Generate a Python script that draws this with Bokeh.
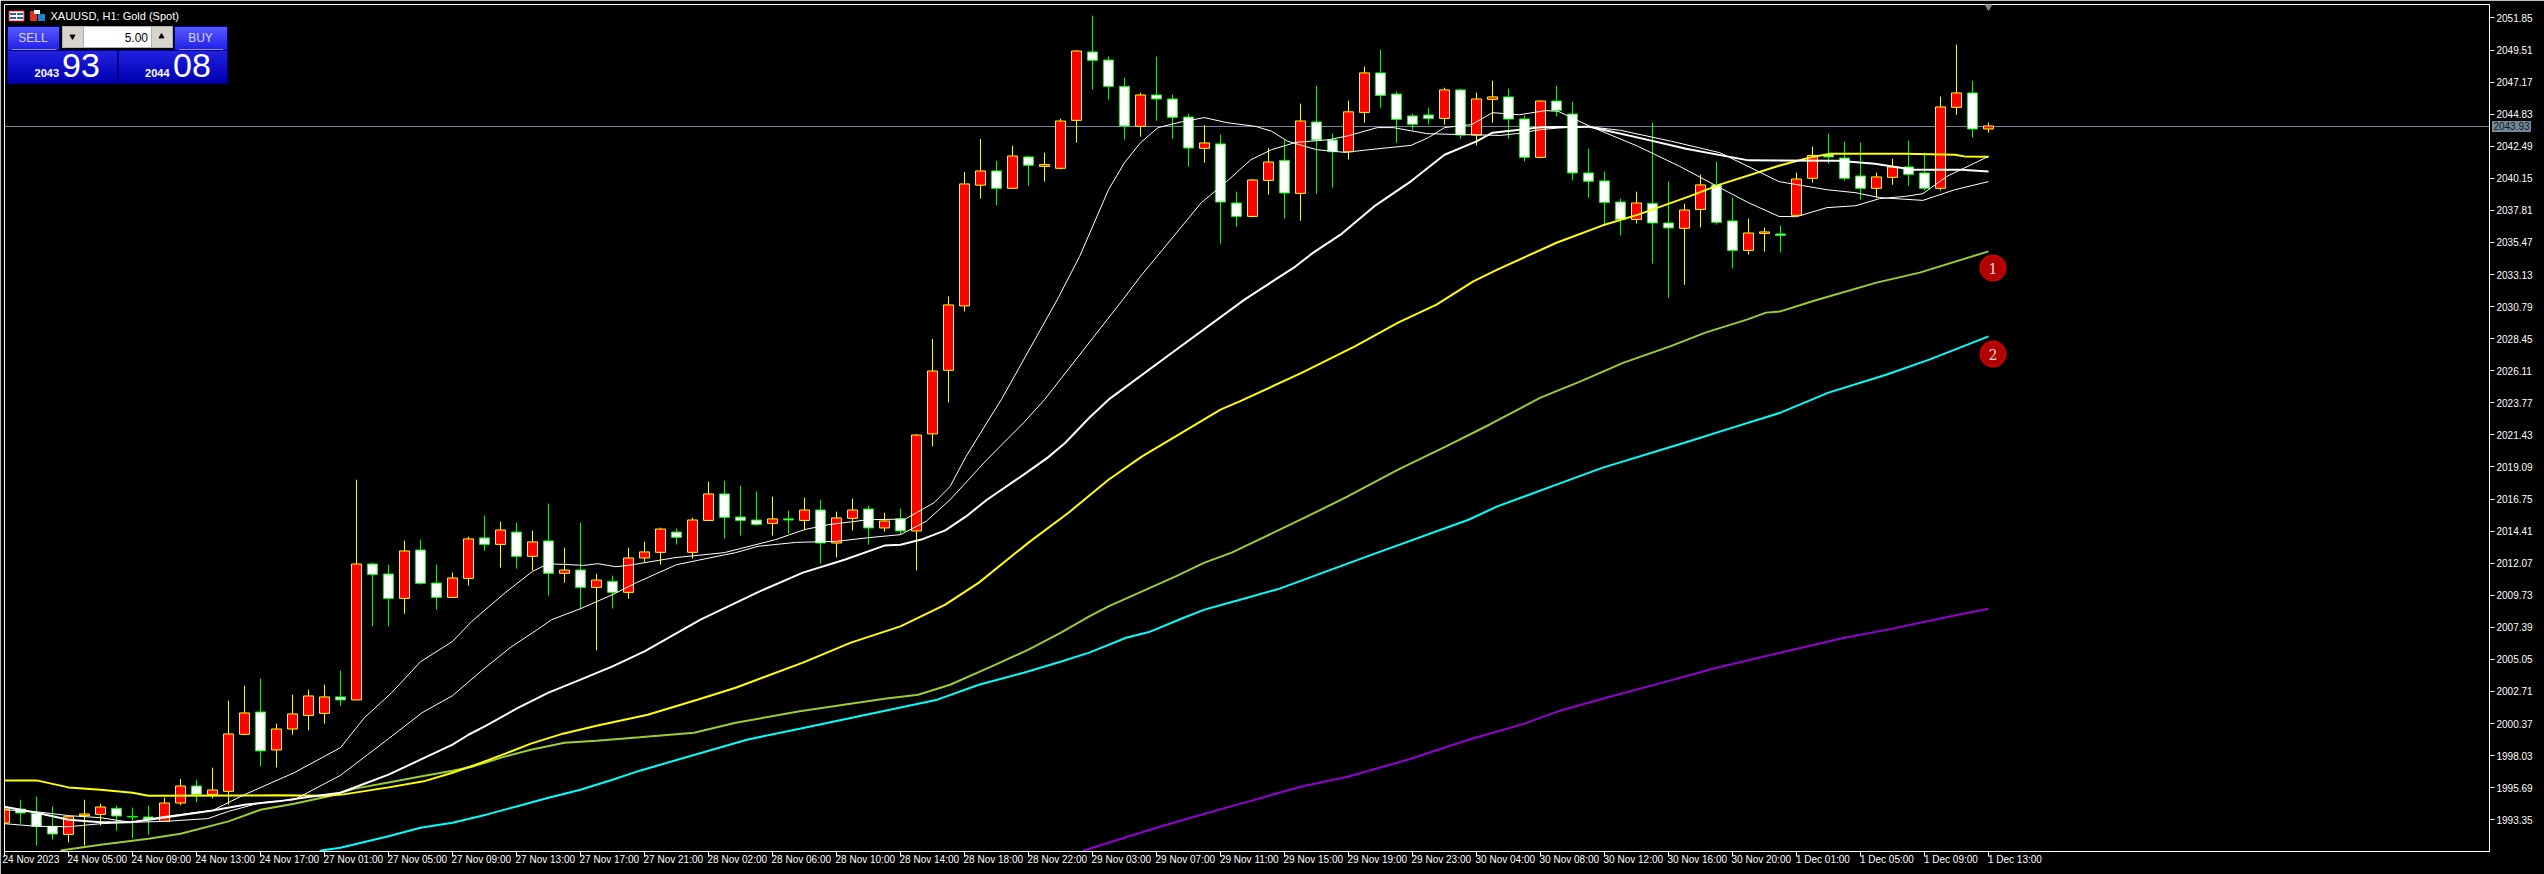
from bokeh.plotting import figure
from bokeh.layouts import column
from bokeh.models import Range1d, FixedTicker, PrintfTickFormatter, LinearAxis, Div, Span, Arrow
from bokeh.embed import file_html
from bokeh.resources import INLINE
from bokeh.core.properties import value

opens = [1993.11,1994.13,1993.81,1992.87,1992.28,1993.65,1993.74,1994.18,1993.59,1993.55,1993.23,1994.57,1995.81,1995.20,1995.42,1999.58,2001.21,1998.44,1999.97,2000.96,2001.11,2002.31,2002.09,2012.01,2011.28,2009.50,2013.03,2010.62,2009.57,2010.96,2013.91,2013.44,2014.34,2012.57,2013.69,2011.33,2011.57,2010.30,2010.74,2009.94,2012.45,2012.86,2014.34,2012.86,2015.19,2017.12,2015.44,2015.22,2014.97,2015.30,2015.19,2015.95,2013.54,2015.34,2016.02,2014.64,2015.30,2014.42,2021.50,2026.14,2030.84,2039.65,2040.69,2039.42,2041.71,2041.02,2040.88,2044.38,2049.37,2048.78,2046.86,2043.94,2046.23,2045.94,2044.62,2042.34,2042.66,2038.35,2037.37,2040.00,2041.46,2039.05,2044.26,2042.95,2042.09,2044.96,2047.84,2046.30,2044.70,2044.77,2044.52,2046.60,2043.31,2045.91,2046.09,2044.48,2041.68,2045.79,2044.84,2040.54,2039.96,2038.42,2037.15,2038.32,2036.89,2036.50,2037.88,2039.67,2037.04,2034.89,2036.13,2036.09,2037.45,2040.15,2041.87,2041.63,2040.32,2039.42,2040.22,2040.98,2040.54,2039.42,2045.33,2046.38,2043.75]
highs = [1994.13,1994.81,1995.03,1994.32,1993.57,1994.81,1994.52,1994.37,1994.23,1994.37,1994.96,1996.32,1996.27,1997.15,2002.04,2003.13,2003.64,2000.36,2002.47,2002.84,2003.20,2004.23,2018.16,2012.11,2011.96,2013.71,2013.79,2011.96,2011.38,2014.00,2015.54,2015.10,2015.02,2014.44,2016.41,2013.20,2015.02,2011.30,2011.16,2013.20,2013.64,2014.66,2014.59,2015.39,2018.02,2018.09,2017.72,2017.29,2016.92,2015.90,2016.85,2016.70,2015.83,2016.77,2016.26,2015.75,2016.05,2021.50,2028.43,2031.52,2040.61,2043.02,2041.42,2042.53,2041.80,2042.02,2044.50,2049.51,2052.02,2049.03,2047.49,2046.40,2049.03,2046.26,2044.87,2044.04,2043.34,2039.18,2040.10,2042.36,2042.97,2045.60,2046.91,2043.41,2045.82,2048.30,2049.54,2046.47,2044.87,2045.30,2046.76,2046.69,2046.40,2047.27,2046.69,2044.72,2045.82,2046.91,2045.74,2042.31,2040.64,2038.67,2039.18,2044.21,2039.91,2038.30,2040.42,2041.37,2038.74,2037.21,2036.55,2036.70,2040.56,2042.46,2043.41,2042.82,2042.75,2040.56,2041.58,2042.90,2042.02,2046.11,2049.90,2047.27,2044.21]
lows = [1993.11,1993.06,1991.46,1991.89,1991.70,1991.46,1992.92,1992.55,1991.99,1992.26,1993.21,1994.40,1994.62,1994.91,1994.45,1999.51,1997.24,1997.17,1999.55,1999.87,2000.36,2001.67,2002.09,2007.46,2007.46,2008.38,2010.50,2008.68,2009.57,2010.43,2012.98,2011.74,2011.67,2011.54,2009.70,2010.64,2008.68,2005.71,2008.75,2009.48,2012.16,2011.96,2013.42,2012.42,2015.19,2013.86,2014.08,2014.80,2014.08,2014.22,2014.46,2012.05,2012.49,2014.46,2013.42,2014.37,2014.13,2011.54,2020.59,2023.80,2030.44,2038.67,2038.18,2039.42,2039.61,2039.91,2040.80,2042.75,2046.62,2045.89,2042.97,2043.19,2044.36,2043.04,2041.00,2041.29,2035.38,2036.62,2037.30,2038.96,2037.21,2037.06,2039.03,2039.47,2041.51,2044.21,2045.30,2042.75,2043.70,2044.07,2044.07,2043.04,2042.55,2044.21,2043.04,2041.39,2041.61,2044.67,2040.00,2038.74,2036.79,2035.99,2036.86,2033.92,2031.44,2032.39,2036.57,2036.77,2033.56,2034.58,2034.80,2034.73,2037.45,2039.83,2041.22,2039.98,2038.59,2038.74,2039.68,2039.61,2039.25,2039.27,2044.79,2043.12,2043.48]
closes = [1994.13,1993.84,1992.87,1992.31,1993.57,1993.77,1994.28,1993.62,1993.55,1993.40,1994.57,1995.81,1995.20,1995.52,1999.61,2001.14,1998.37,1999.97,2001.07,2002.38,2002.31,2002.09,2012.01,2011.25,2009.50,2012.96,2010.60,2009.57,2010.99,2013.84,2013.44,2014.49,2012.57,2013.62,2011.33,2011.57,2010.30,2010.84,2009.94,2012.45,2012.89,2014.56,2013.95,2015.22,2017.12,2015.41,2015.19,2014.90,2015.30,2015.22,2015.95,2013.54,2015.37,2015.95,2014.64,2015.15,2014.42,2021.42,2026.09,2030.91,2039.74,2040.69,2039.42,2041.78,2041.10,2041.15,2044.33,2049.44,2048.76,2046.86,2043.97,2046.23,2045.94,2044.60,2042.36,2042.73,2038.42,2037.37,2040.03,2041.34,2039.08,2044.33,2042.95,2042.09,2045.00,2047.84,2046.20,2044.45,2044.09,2044.52,2046.60,2043.31,2045.94,2046.09,2044.47,2041.68,2045.79,2045.11,2040.54,2039.93,2038.39,2037.15,2038.35,2036.89,2036.53,2037.84,2039.67,2036.94,2034.89,2036.16,2036.24,2035.99,2040.10,2041.82,2041.71,2040.15,2039.42,2040.25,2040.98,2040.44,2039.42,2045.36,2046.38,2043.75,2043.97]

ma_yellow_bar = [0,2,4,6,8,9,17,20.2,21.2,24,26.2,28,29.8,31.3,32.9,34.9,37,40.2,43.3,45.7,49.9,52.9,56,58.8,60.9,64,66.5,69,71.1,73.2,76,77.2,81.1,84.4,87.1,89.5,91.8,93.3,97,99.9,102.1,105.3,107.2,110.9,112.8,114.1,118.8,121.9,122.5,124]
ma_yellow = [1996.22,1996.22,1995.71,1995.54,1995.32,1995.10,1995.13,1995.10,1995.20,1995.71,1996.15,1996.78,1997.51,1998.17,1998.90,1999.63,2000.21,2001.01,2002.11,2002.98,2004.81,2006.27,2007.46,2009.04,2010.65,2013.57,2015.75,2018.16,2019.86,2021.32,2023.27,2023.87,2025.97,2027.89,2029.62,2030.93,2032.63,2033.49,2035.45,2036.72,2037.50,2038.83,2039.69,2041.07,2041.66,2041.95,2041.95,2041.87,2041.75,2041.73]

ma_white_bar = [0,2,4,6,7.9,9.9,13,15,17.1,19.1,21,22.7,24,26,28,29,30.1,32,34,36,38,40,43.5,47.2,49.9,52.5,55,56,57.3,58.8,60.1,61.4,63.7,65.2,66.3,67.8,69,72.8,77.5,80.7,81.8,83.5,85.6,87.9,90,92,93,94.7,96,99,99.9,102.1,105.1,109,114.6,116.9,119.3,122.3,124]
ma_white = [1994.30,1993.86,1993.35,1993.16,1993.16,1993.50,1994.03,1994.45,1994.69,1995.03,1995.32,1996.07,1996.64,1997.73,1998.83,1999.55,2000.21,2001.45,2002.62,2003.57,2004.54,2005.63,2007.95,2010.01,2011.38,2012.32,2013.35,2013.42,2013.79,2014.46,2015.48,2016.70,2018.53,2019.77,2020.86,2022.68,2024.00,2027.28,2031.30,2033.73,2034.73,2036.04,2038.10,2039.93,2041.87,2042.85,2043.48,2043.70,2043.87,2043.92,2043.70,2043.12,2042.31,2041.46,2041.44,2041.22,2040.78,2040.78,2040.64]

ma_fast_bar = [0,2,4,6,7.9,10,13,15,18.1,21,22.5,24.2,26,28,29.2,31.3,33,34,36.2,37.1,38.2,39,41.9,45,48.2,50,51.5,54,56.3,58.1,59.1,60.1,61.4,62.3,65.8,67.2,69,70,71,72.1,73.6,75,76.4,78.2,79.2,80.2,82,83.8,85.3,87.9,89,90,91.7,93,94.7,96.3,97.1,99.1,102.1,104.7,107.2,109,110.9,112,113.9,115.7,117.2,118.8,119.9,121.4,124]
ma_fast = [1994.08,1993.93,1993.65,1993.50,1993.16,1993.59,1994.03,1995.18,1996.78,1998.61,2000.80,2002.62,2004.88,2006.36,2007.82,2009.92,2011.47,2012.03,2011.91,2012.03,2011.81,2011.91,2012.47,2012.84,2013.79,2014.52,2014.88,2015.24,2015.29,2016.48,2017.67,2019.86,2022.32,2024.00,2031.30,2034.46,2039.32,2041.29,2042.75,2043.85,2044.28,2044.58,2044.21,2043.94,2043.58,2042.85,2042.24,2042.04,2042.24,2042.55,2043.12,2043.85,2044.07,2044.94,2044.79,2045.09,2045.04,2043.94,2042.48,2041.02,2039.47,2038.37,2037.37,2037.35,2038.01,2038.15,2038.67,2038.83,2039.03,2040.29,2041.75]

ma_slow_bar = [0,2,4,6,7.9,10,12.7,14,16,18.1,21,24,26.1,28,29.9,31.6,33.3,34.2,36,38,39.5,42,43.3,45.7,47.1,49.5,52,54,56,57.6,59.1,61.4,63.7,65,69.9,71,73,74.8,76.4,77.9,79.2,80.7,82.8,84,85.8,86.8,88.9,91,93.5,94.5,96,97.1,99,101,104.2,107.2,109.4,110.9,113.9,115.7,117.2,119.9,121.9,124]
ma_slow = [1993.06,1992.87,1992.84,1993.06,1993.16,1993.23,1993.43,1993.96,1994.59,1994.81,1996.59,1999.26,2001.16,2002.40,2004.30,2005.90,2007.22,2007.95,2008.75,2009.77,2010.65,2011.96,2012.27,2012.84,2013.30,2013.59,2013.66,2013.93,2014.15,2015.12,2016.70,2019.62,2022.32,2024.00,2031.30,2033.00,2035.82,2038.37,2039.93,2041.51,2042.24,2042.77,2042.97,2043.26,2043.85,2043.85,2043.41,2043.34,2043.28,2043.41,2043.70,2043.82,2043.92,2043.65,2042.85,2042.02,2040.78,2039.91,2039.32,2039.10,2038.74,2038.54,2039.32,2039.91]

ma_green_bar = [3.5,6,9,11,14,16,18.1,20.2,21.9,24,26,28,29.3,31.3,32.9,35,37,39.7,43.1,45.7,49.7,55,57.1,59.1,61.7,64,66,67.8,69,71.1,73.2,75,76.7,79.7,81,83.8,87.1,90.1,92.8,96,98.5,101.2,104.1,106.3,108.9,110.1,111,113.1,117,119.7,124]
ma_green = [1991.11,1991.53,1991.97,1992.33,1993.23,1994.08,1994.52,1995.05,1995.62,1996.07,1996.51,1996.93,1997.24,1997.97,1998.46,1998.97,1999.12,1999.36,1999.70,2000.43,2001.26,2002.18,2002.47,2003.20,2004.54,2005.76,2006.99,2008.19,2008.92,2010.01,2011.11,2012.11,2012.84,2014.52,2015.24,2016.85,2018.89,2020.59,2022.17,2024.15,2025.33,2026.70,2027.89,2028.89,2029.84,2030.35,2030.44,2031.22,2032.54,2033.27,2034.82]

ma_cyan_bar = [19.7,21,24,26,28,30.1,32,34,36,38,39.7,46.4,49.7,58.3,60.9,63.7,66,67.8,70.1,71.6,73.7,75,77,79.7,85.3,91.5,93.3,97,99.9,105,108,111,114,117.6,120.3,124]
ma_cyan = [1991.09,1991.31,1992.14,1992.77,1993.13,1993.72,1994.32,1994.96,1995.54,1996.27,1996.93,1999.19,1999.99,2002.11,2003.20,2004.08,2004.88,2005.54,2006.63,2007.07,2008.09,2008.68,2009.33,2010.21,2012.62,2015.24,2016.21,2017.80,2019.04,2020.86,2021.96,2023.05,2024.51,2025.82,2026.92,2028.62]

ma_purple_bar = [67.4,72,75,78,81,84,87.7,91.5,95,97.1,100.1,103.4,107,111.3,115,117.7,121.8,124]
ma_purple = [1991.09,1992.77,1993.79,1994.76,1995.76,1996.51,1997.73,1999.19,2000.36,2001.26,2002.25,2003.28,2004.44,2005.63,2006.63,2007.22,2008.24,2008.75]

y_ticks = [1993.35,1995.69,1998.03,2000.37,2002.71,2005.05,2007.39,2009.73,2012.07,2014.41,2016.75,2019.09,2021.43,2023.77,2026.11,2028.45,2030.79,2033.13,2035.47,2037.81,2040.15,2042.49,2044.83,2047.17,2049.51,2051.85]
x_tick_labels = ["24 Nov 2023","24 Nov 05:00","24 Nov 09:00","24 Nov 13:00","24 Nov 17:00","27 Nov 01:00","27 Nov 05:00","27 Nov 09:00","27 Nov 13:00","27 Nov 17:00","27 Nov 21:00","28 Nov 02:00","28 Nov 06:00","28 Nov 10:00","28 Nov 14:00","28 Nov 18:00","28 Nov 22:00","29 Nov 03:00","29 Nov 07:00","29 Nov 11:00","29 Nov 15:00","29 Nov 19:00","29 Nov 23:00","30 Nov 04:00","30 Nov 08:00","30 Nov 12:00","30 Nov 16:00","30 Nov 20:00","1 Dec 01:00","1 Dec 05:00","1 Dec 09:00","1 Dec 13:00"]
x_ticks = [4 * k for k in range(len(x_tick_labels))]
last_price = 2043.93

FONT = "Liberation Sans"
Y0, Y1 = 1991.032, 2052.832
X0, X1 = 0.0, 155.3125

p = figure(width=2544, height=874, output_backend="svg", toolbar_location=None,
           x_range=Range1d(X0, X1), y_range=Range1d(Y0, Y1),
           y_axis_location="right", x_axis_location="below",
           background_fill_color="black", border_fill_color="black",
           min_border_left=4, min_border_right=55, min_border_top=4, min_border_bottom=23)
p.grid.visible = False
p.outline_line_color = "white"
p.outline_line_width = 1
p.outline_line_alpha = 1

for ax in (p.xaxis[0], p.yaxis[0]):
    ax.axis_line_color = "white"
    ax.major_tick_line_color = "white"
    ax.major_tick_out = 5
    ax.major_tick_in = 0
    ax.minor_tick_line_color = None
    ax.major_label_text_color = "white"
    ax.major_label_text_font = FONT
    ax.major_label_text_font_size = "10px"
p.yaxis[0].ticker = FixedTicker(ticks=y_ticks)
p.yaxis[0].formatter = PrintfTickFormatter(format="%.2f")
p.yaxis[0].major_label_standoff = 2
p.xaxis[0].ticker = FixedTicker(ticks=x_ticks)
p.xaxis[0].major_label_text_font_size = "0px"
p.xaxis[0].major_label_text_color = None
p.xaxis[0].major_label_standoff = 0

label_centres = [t + 0.15 * len(s) for t, s in zip(x_ticks, x_tick_labels)]
xlab = LinearAxis(ticker=FixedTicker(ticks=label_centres),
                  major_label_overrides={c: s for c, s in zip(label_centres, x_tick_labels)},
                  axis_line_color=None, major_tick_line_color=None, minor_tick_line_color=None,
                  major_tick_out=0, major_tick_in=0, major_label_standoff=-3,
                  major_label_text_color="white", major_label_text_font=FONT,
                  major_label_text_font_size="10px")
p.add_layout(xlab, "below")

p.add_layout(Span(location=last_price, dimension="width", line_color="#778899", line_width=1, level="underlay"))

bars = list(range(len(opens)))
up = [c >= o for o, c in zip(opens, closes)]
edge = ["#FFFF00" if u else "#00FF00" for u in up]
body = ["#FF0000" if u else "#FFFFFF" for u in up]
top = [max(a, b) for a, b in zip(opens, closes)]
bot = [min(a, b) for a, b in zip(opens, closes)]
p.segment(bars, highs, bars, lows, line_color=edge, line_width=1)
p.vbar(bars, width=10 / 16, top=top, bottom=bot, fill_color=body, line_color=edge, line_width=1)

p.line(ma_purple_bar, ma_purple, line_color="#9400D3", line_width=2)
p.line(ma_cyan_bar, ma_cyan, line_color="#00FFFF", line_width=2)
p.line(ma_green_bar, ma_green, line_color="#9ACD32", line_width=2)
p.line(ma_yellow_bar, ma_yellow, line_color="#FFFF00", line_width=2)
p.line(ma_white_bar, ma_white, line_color="#FFFFFF", line_width=2)
p.line(ma_slow_bar, ma_slow, line_color="#FFFFFF", line_width=1)
p.line(ma_fast_bar, ma_fast, line_color="#FFFFFF", line_width=1)

# --- trading panel and decorations, in window pixels
p.extra_x_ranges["px"] = Range1d(4.5, 2489.5)
p.extra_y_ranges["px"] = Range1d(851.5, 4.5)
PX = dict(x_range_name="px", y_range_name="px")

def box(l, r, t, b, c, line=None):
    p.quad(left=[l], right=[r], top=[t], bottom=[b], fill_color=c, line_color=line, **PX)

def grad(l, r, t, b, c0, c1):
    n = b - t
    for k in range(n):
        f = k / max(n - 1, 1)
        c = tuple(int(round(c0[j] + (c1[j] - c0[j]) * f)) for j in range(3))
        box(l, r, t + k, t + k + 1, "#%02x%02x%02x" % c)

def txt(x, y, s, color="white", size=11, align="left", bold=False, font=FONT):
    p.text([x], [y], text=[s], text_color=color, text_font=value(font), text_font_size=f"{size}px",
           text_align=align, text_baseline="middle", text_font_style="bold" if bold else "normal", **PX)

box(7, 118, 50, 84, "#000080")
box(118, 228, 50, 84, "#000080")
box(7, 60, 26, 51, "#000080")
box(174, 228, 26, 51, "#000080")
grad(8, 59, 27, 50, (0x58, 0x58, 0xFF), (0x20, 0x20, 0xE8))
grad(175, 227, 27, 50, (0x58, 0x58, 0xFF), (0x20, 0x20, 0xE8))
grad(8, 117, 51, 83, (0x20, 0x20, 0xE0), (0x00, 0x00, 0xB0))
grad(119, 227, 51, 83, (0x20, 0x20, 0xE0), (0x00, 0x00, 0xB0))
box(12, 56, 49, 50, "#9090FF")
box(179, 223, 49, 50, "#9090FF")
txt(33, 38, "SELL", color="#D8D8FF", size=12, align="center")
txt(200.5, 38, "BUY", color="#D8D8FF", size=12, align="center")
box(62, 173, 26, 48, "#B0B0B0")
box(63, 83, 27, 47, "#D8D4CC")
box(84, 151, 27, 47, "#FFFFFF")
box(152, 172, 27, 47, "#D8D4CC")
p.scatter([72.5], [36.5], marker="inverted_triangle", size=5, color="black", **PX)
p.scatter([161.5], [36.5], marker="triangle", size=5, color="black", **PX)
txt(148, 37, "5.00", color="black", size=12, align="right")
txt(59, 73, "2043", size=11, align="right", bold=True)
txt(62, 65, "93", size=34)
txt(169.5, 73, "2044", size=11, align="right", bold=True)
txt(173, 65, "08", size=34)

box(9, 24, 11, 21, "#FFFFFF", "#E03020")
box(10, 16, 13, 15, "#2060C0")
box(17, 23, 13, 15, "#2060C0")
box(10, 16, 17, 19, "#2060C0")
box(17, 23, 17, 19, "#2060C0")
box(30, 37, 11, 21, "#E03020")
box(38, 45, 14, 21, "#2080D0")
box(34, 40, 10, 14, "#FFFFFF")
txt(50.5, 16, "XAUUSD, H1:  Gold (Spot)", size=11)

p.scatter([1993, 1993], [268, 354], marker="circle", size=25, fill_color="#B00000", line_color="#CC0000", line_width=2, **PX)
txt(1993, 268, "1", color="#F0D8D8", size=14, align="center", font="DejaVu Serif")
txt(1993, 354, "2", color="#F0D8D8", size=14, align="center", font="DejaVu Serif")
p.scatter([1988.5], [6.5], marker="inverted_triangle", size=7, color="#808080", **PX)

p.add_layout(Arrow(x_start=0, x_end=2544, y_start=1, y_end=1, end=None, line_color="#808080", line_width=2, level="overlay", **PX))
p.add_layout(Arrow(x_start=0.5, x_end=0.5, y_start=0, y_end=874, end=None, line_color="#808080", line_width=1, level="overlay", **PX))
p.add_layout(Arrow(x_start=0, x_end=2544, y_start=873.5, y_end=873.5, end=None, line_color="#C0C0C0", line_width=1, level="overlay", **PX))

price_tag = Div(text="2043.93", width=39, height=11, margin=(121 - 874, 0, 0, 2492),
                styles={"background-color": "#778899", "color": "#101820", "font-family": FONT,
                        "font-size": "10px", "line-height": "11px", "text-align": "center"})

open("out.html", "w").write(file_html(column(p, price_tag), INLINE))
